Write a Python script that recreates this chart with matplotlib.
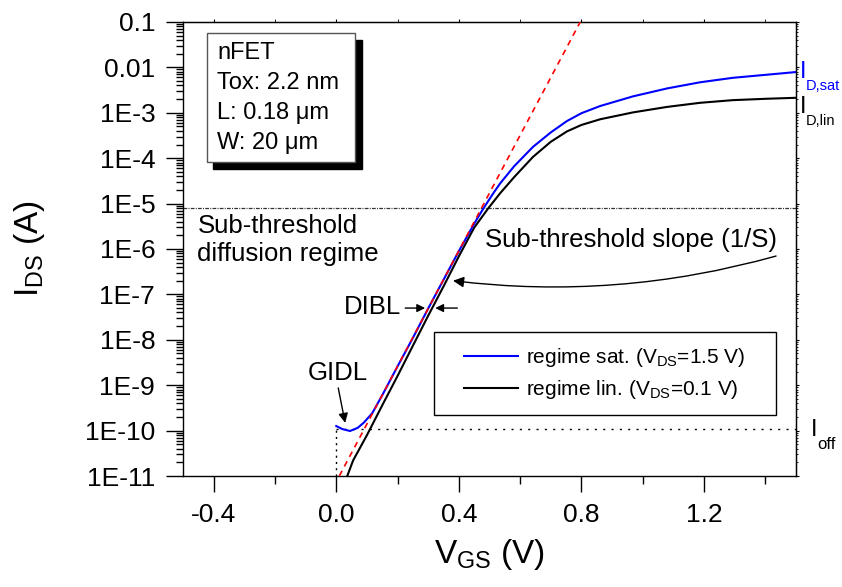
import matplotlib
matplotlib.use("Agg")
import matplotlib.pyplot as plt
from matplotlib.patches import Rectangle
from matplotlib.ticker import FixedLocator, FixedFormatter, LogLocator, MultipleLocator, NullFormatter

plt.rcParams['font.family'] = ['Liberation Sans', 'DejaVu Sans']
plt.rcParams['mathtext.fontset'] = 'custom'
plt.rcParams['mathtext.rm'] = 'Liberation Sans'
plt.rcParams['mathtext.it'] = 'Liberation Sans:italic'
plt.rcParams['mathtext.bf'] = 'Liberation Sans:bold'

# courbe saturation (VDS = 1.5 V)
vgs_sat = [0.0, 0.02, 0.045, 0.07, 0.09, 0.117, 0.15, 0.2, 0.25, 0.3, 0.35, 0.4, 0.45,
           0.48, 0.51, 0.535, 0.58, 0.642, 0.7, 0.753, 0.8, 0.861, 0.968, 1.08, 1.187,
           1.294, 1.405, 1.5]
ids_sat = [1.26e-10, 1.08e-10, 9.8e-11, 1.15e-10, 1.5e-10, 2.4e-10, 6.0e-10, 2.6e-9, 1.1e-8,
           4.9e-8, 2.1e-7, 9.0e-7, 3.6e-6, 7.8e-6, 1.6e-5, 2.8e-5, 6.6e-5, 1.78e-4, 3.7e-4,
           6.6e-4, 9.8e-4, 1.41e-3, 2.3e-3, 3.45e-3, 4.7e-3, 5.9e-3, 6.9e-3, 7.9e-3]

# courbe lineaire (VDS = 0.1 V)
vgs_lin = [0.036, 0.055, 0.1, 0.15, 0.2, 0.25, 0.3, 0.35, 0.4, 0.45, 0.496, 0.535, 0.58,
           0.642, 0.7, 0.753, 0.8, 0.861, 0.968, 1.08, 1.187, 1.294, 1.405, 1.5]
ids_lin = [1.0e-11, 2.2e-11, 7.9e-11, 3.6e-10, 1.6e-9, 7.4e-9, 3.4e-8, 1.5e-7, 6.9e-7,
           2.95e-6, 7.9e-6, 1.7e-5, 3.8e-5, 1.07e-4, 2.3e-4, 3.9e-4, 5.4e-4, 7.2e-4,
           1.02e-3, 1.35e-3, 1.66e-3, 1.9e-3, 2.04e-3, 2.14e-3]

# pente sous le seuil (droite ideale)
slope_vgs = [0.01, 0.796]
slope_ids = [1e-11, 0.1]

i_level = 8.1e-6
i_off = 1.1e-10

x_ticks = [-0.4, 0.0, 0.4, 0.8, 1.2]
x_labels = ['-0.4', '0.0', '0.4', '0.8', '1.2']
y_ticks = [1e-11, 1e-10, 1e-9, 1e-8, 1e-7, 1e-6, 1e-5, 1e-4, 1e-3, 1e-2, 1e-1]
y_labels = ['1E-11', '1E-10', '1E-9', '1E-8', '1E-7', '1E-6', '1E-5', '1E-4', '1E-3', '0.01', '0.1']

blue = '#0000ff'
W, H = 842, 587


def fx(px):
    return px / W


def fy(py):
    return 1 - py / H


fig = plt.figure(figsize=(8.42, 5.87), dpi=100)
ax = fig.add_axes([fx(183), fy(476), fx(796) - fx(183), fy(22) - fy(476)])

ax.plot(vgs_lin, ids_lin, color='k', lw=1.5, label=r'regime lin. (V$_{\mathrm{DS}}$=0.1 V)', zorder=3)
ax.plot(vgs_sat, ids_sat, color=blue, lw=1.5, label=r'regime sat. (V$_{\mathrm{DS}}$=1.5 V)', zorder=4)
ax.plot(slope_vgs, slope_ids, color='red', lw=1.2, ls=(0, (3.5, 3)), zorder=5)

ax.axhline(i_level, color='#333333', lw=0.9, ls=(0, (3, 1, 0.8, 1)), zorder=2)
ax.plot([0.0, 1.5], [i_off, i_off], color='k', lw=1, ls=(0, (1.5, 4.5)), zorder=2)
ax.plot([0.0, 0.0], [1e-11, i_off], color='k', lw=1, ls=(0, (1.5, 3)), zorder=2)

ax.set_xlim(-0.5, 1.5)
ax.set_yscale('log')
ax.set_ylim(1e-11, 0.1)

ax.xaxis.set_major_locator(FixedLocator(x_ticks))
ax.xaxis.set_major_formatter(FixedFormatter(x_labels))
ax.xaxis.set_minor_locator(MultipleLocator(0.2))
ax.yaxis.set_major_locator(FixedLocator(y_ticks))
ax.yaxis.set_major_formatter(FixedFormatter(y_labels))
ax.yaxis.set_minor_locator(LogLocator(base=10, subs=range(2, 10), numticks=50))
ax.yaxis.set_minor_formatter(NullFormatter())

ax.tick_params(which='both', labelsize=19, pad=8, width=1.0, direction='out')
ax.tick_params(axis='x', which='major', length=11.5)
ax.tick_params(axis='x', which='minor', length=6)
ax.tick_params(axis='y', which='major', length=12)
ax.tick_params(axis='y', which='minor', length=5)
for s in ax.spines.values():
    s.set_linewidth(1.0)

# petites graduations haut / droite
secx = ax.secondary_xaxis('top')
secx.set_xticks(x_ticks)
secx.xaxis.set_minor_locator(MultipleLocator(0.2))
secx.tick_params(which='both', direction='out', length=2, labeltop=False)
secy = ax.secondary_yaxis('right')
secy.set_yticks(y_ticks)
secy.yaxis.set_minor_locator(LogLocator(base=10, subs=range(2, 10), numticks=50))
secy.yaxis.set_minor_formatter(NullFormatter())
secy.tick_params(which='major', direction='out', length=2.5, labelright=False)
secy.tick_params(which='minor', direction='out', length=1.5)

ax.set_xlabel(r'V$_{\mathrm{GS}}$ (V)', fontsize=24)
ax.set_ylabel(r'I$_{\mathrm{DS}}$ (A)', fontsize=24)
ax.xaxis.set_label_coords(0.5, -0.135)
ax.yaxis.set_label_coords(-0.222, 0.5)

# legende dans un cadre
ax.add_patch(Rectangle((0.409, 0.134), 0.558, 0.183, transform=ax.transAxes,
                       fc='white', ec='k', lw=1, zorder=6))
handles, labels = ax.get_legend_handles_labels()
leg = ax.legend(handles[::-1], labels[::-1], loc='center', bbox_to_anchor=(0.688, 0.2255),
                frameon=False, fontsize=15, handlelength=2.6, handletextpad=0.4, labelspacing=0.45)
leg.set_zorder(7)

# encadre nFET avec ombre
fig.patches.append(Rectangle((fx(213), fy(169)), fx(362) - fx(213), fy(40) - fy(169),
                             transform=fig.transFigure, fc='k', ec='k', zorder=1))
fig.patches.append(Rectangle((fx(207), fy(162)), fx(355) - fx(207), fy(33) - fy(162),
                             transform=fig.transFigure, fc='white', ec='#555555', lw=1, zorder=2))
for py, txt in zip([53, 83, 113, 143], ['nFET', 'Tox: 2.2 nm', 'L: 0.18 \u03bcm', 'W: 20 \u03bcm']):
    fig.text(fx(217), fy(py), txt, fontsize=17, va='center', ha='left', zorder=3)

# annotations
ax.text(-0.453, 1.58e-6, 'Sub-threshold\ndiffusion regime', fontsize=18.5, ha='left', va='center')
ax.text(0.486, 1.58e-6, 'Sub-threshold slope (1/S)', fontsize=18.5, ha='left', va='center')
ax.annotate('', xy=(0.381, 2.0e-7), xytext=(1.435, 7.0e-7),
            arrowprops=dict(arrowstyle='-|>', connectionstyle='arc3,rad=-0.1', color='k', lw=1,
                            mutation_scale=16, shrinkA=0, shrinkB=0))
ax.text(0.118, 5.3e-8, 'DIBL', fontsize=18.5, ha='center', va='center')
ax.annotate('', xy=(0.290, 5e-8), xytext=(0.225, 5e-8),
            arrowprops=dict(arrowstyle='-|>', color='k', lw=1, mutation_scale=12, shrinkA=0, shrinkB=0))
ax.annotate('', xy=(0.323, 5e-8), xytext=(0.395, 5e-8),
            arrowprops=dict(arrowstyle='-|>', color='k', lw=1, mutation_scale=12, shrinkA=0, shrinkB=0))
ax.text(0.005, 1.86e-9, 'GIDL', fontsize=18.5, ha='center', va='center')
ax.annotate('', xy=(0.029, 1.48e-10), xytext=(0.0065, 8.7e-10),
            arrowprops=dict(arrowstyle='-|>', color='k', lw=1, mutation_scale=14, shrinkA=0, shrinkB=0))

# etiquettes a droite
fig.text(fx(800), fy(78), 'I', color=blue, fontsize=17, va='baseline', ha='left')
fig.text(fx(806), fy(79), 'D,sat', color=blue, fontsize=10.5, va='top', ha='left')
fig.text(fx(800), fy(113), 'I', color='k', fontsize=17, va='baseline', ha='left')
fig.text(fx(806), fy(114), 'D,lin', color='k', fontsize=10.5, va='top', ha='left')
fig.text(fx(811), fy(436), 'I', color='k', fontsize=17, va='baseline', ha='left')
fig.text(fx(817), fy(437), 'off', color='k', fontsize=12, va='top', ha='left')

fig.savefig('out.png', dpi=100)
